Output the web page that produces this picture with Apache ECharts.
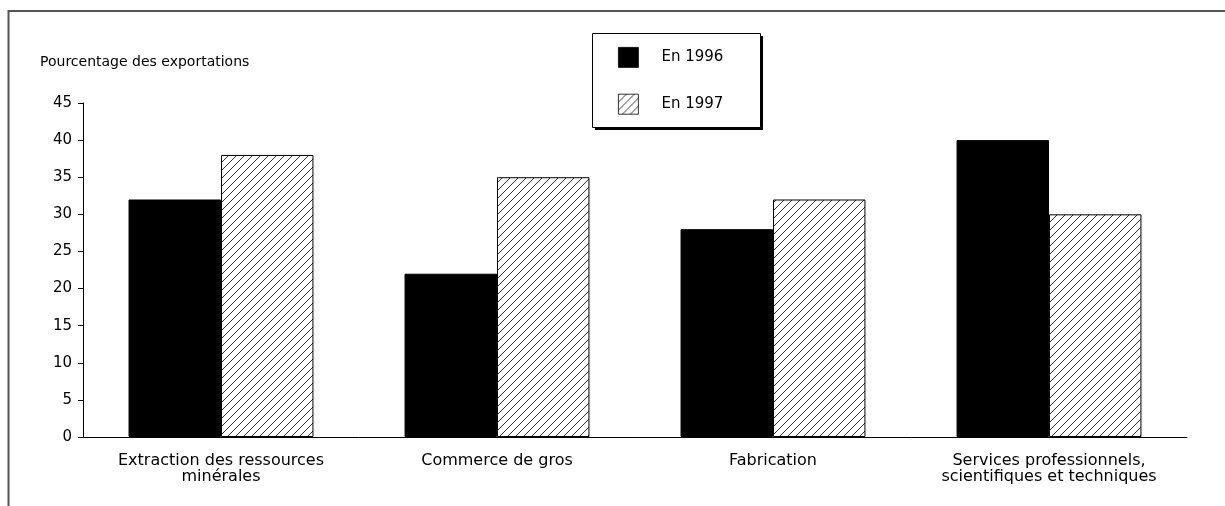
<!DOCTYPE html>
<html>
<head>
<meta charset="utf-8">
<script src="https://cdn.jsdelivr.net/npm/echarts@6/dist/echarts.min.js"></script>
<style>
  html, body { margin: 0; padding: 0; background: #fff; }
  #chart { width: 1225px; height: 506px; }
</style>
</head>
<body>
<div id="chart"></div>
<script>
        // données
        const categories = [
            'Extraction des ressources\nminérales',
            'Commerce de gros',
            'Fabrication',
            'Services professionnels,\nscientifiques et techniques'
        ];
        const seriesNames = ['En 1996', 'En 1997'];
        const values1996 = [32, 22, 28, 40];
        const values1997 = [38, 35, 32, 30];
        const yTicks = [0, 5, 10, 15, 20, 25, 30, 35, 40, 45];

        // motif hachuré
        function makeHatch() {
            const c = document.createElement('canvas');
            c.width = 8;
            c.height = 8;
            const ctx = c.getContext('2d');
            ctx.fillStyle = '#fff';
            ctx.fillRect(0, 0, 8, 8);
            ctx.strokeStyle = '#333';
            ctx.lineWidth = 1;
            ctx.beginPath();
            ctx.moveTo(-1, 9); ctx.lineTo(9, -1);
            ctx.moveTo(-1, 1); ctx.lineTo(1, -1);
            ctx.moveTo(7, 9); ctx.lineTo(9, 7);
            ctx.stroke();
            return c;
        }
        const hatch = { image: makeHatch(), repeat: 'repeat' };

        const font = 'DejaVu Sans, sans-serif';
        const chartDom = document.getElementById('chart');
        const myChart = echarts.init(chartDom);

        const option = {
            animation: false,
            textStyle: { fontFamily: font, color: '#000' },
            graphic: [
                {
                    type: 'rect',
                    shape: { x: 8.5, y: 11, width: 1300, height: 600 },
                    style: { fill: 'none', stroke: '#555', lineWidth: 2 },
                    z: -1
                },
                {
                    type: 'text',
                    left: 40,
                    top: 55,
                    style: { text: 'Pourcentage des exportations', font: '14px ' + font, fill: '#000' }
                },
                // cadre de la légende avec ombre
                {
                    type: 'rect',
                    shape: { x: 595, y: 36, width: 168, height: 94 },
                    style: { fill: '#000' },
                    z: 1
                },
                {
                    type: 'rect',
                    shape: { x: 592.5, y: 33.5, width: 168, height: 94 },
                    style: { fill: '#fff', stroke: '#000', lineWidth: 1 },
                    z: 2
                }
            ],
            legend: {
                orient: 'vertical',
                left: 592,
                top: 33,
                z: 10,
                padding: [14, 40, 14, 26],
                itemWidth: 20,
                itemHeight: 20,
                itemGap: 26,
                icon: 'rect',
                itemStyle: { borderWidth: 0.8 },
                textStyle: { fontFamily: font, fontSize: 15, color: '#000', padding: [0, 0, 0, 18] },
                data: seriesNames
            },
            grid: {
                left: 83,
                right: 38,
                top: 103,
                bottom: 69
            },
            xAxis: {
                type: 'category',
                data: categories,
                axisLine: { lineStyle: { color: '#000', width: 1 } },
                axisTick: { show: false },
                axisLabel: { fontFamily: font, fontSize: 16, color: '#000', lineHeight: 16, margin: 16, interval: 0 }
            },
            yAxis: {
                type: 'value',
                min: 0,
                max: 45,
                interval: 5,
                splitLine: { show: false },
                axisLine: { show: true, lineStyle: { color: '#000', width: 1 } },
                axisTick: { show: true, length: 5, lineStyle: { color: '#000' } },
                axisLabel: {
                    fontFamily: font,
                    fontSize: 15,
                    color: '#000',
                    margin: 11,
                    formatter: v => (yTicks.includes(v) ? String(v) : '')
                }
            },
            series: [
                {
                    name: seriesNames[0],
                    type: 'bar',
                    data: values1996,
                    barWidth: '33.5%',
                    barGap: '0%',
                    itemStyle: { color: '#000', borderColor: '#000', borderWidth: 1 }
                },
                {
                    name: seriesNames[1],
                    type: 'bar',
                    data: values1997,
                    barWidth: '33.5%',
                    itemStyle: { color: hatch, borderColor: '#000', borderWidth: 1 }
                }
            ]
        };

        myChart.setOption(option);

        window.addEventListener('resize', () => {
            myChart.resize();
        });
</script>
</body>
</html>
